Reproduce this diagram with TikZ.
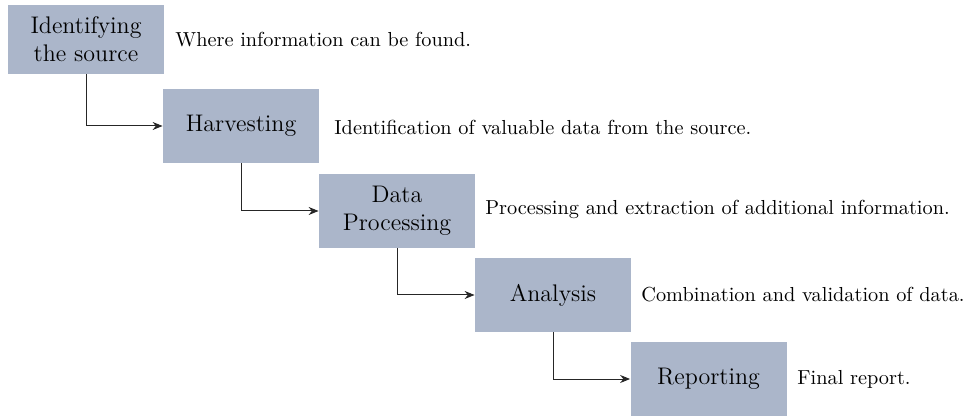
\documentclass[tikz,border=0pt]{standalone}
\usetikzlibrary{arrows.meta}
\definecolor{boxfill}{HTML}{ABB6CA}
\tikzset{
  stepbox/.style={rectangle, fill=boxfill, inner sep=0pt, minimum width=78pt, minimum height=37pt, align=center, font=\large},
  desc/.style={anchor=west, inner sep=0pt, font=\fontsize{10.15}{12}\selectfont},
  conn/.style={draw=black!85, line width=0.5pt, -{Stealth[length=5pt,width=4pt]}}
}
\begin{document}
\begin{tikzpicture}[x=0.5pt, y=-0.5pt]
\useasboundingbox (0,0) rectangle (968,416);
\node[stepbox, minimum height=34.5pt] (s1) at (86,39.5) {Identifying\\the source};
\node[stepbox] (s2) at (241,126) {Harvesting};
\node[stepbox] (s3) at (397,211) {Data\\Processing};
\node[stepbox] (s4) at (553,295) {Analysis};
\node[stepbox] (s5) at (708.5,379) {Reporting};
\node[desc] (d1) at (175,40) {Where information can be found.};
\node[desc] (d2) at (334,127) {Identification of valuable data from the source.};
\node[desc] (d3) at (485,209) {Processing and extraction of additional information.};
\node[desc] (d4) at (641,295) {Combination and validation of data.};
\node[desc] (d5) at (797,379) {Final report.};
\draw[conn] (s1.south) |- (s2.west);
\draw[conn] (s2.south) |- (s3.west);
\draw[conn] (s3.south) |- (s4.west);
\draw[conn] (s4.south) |- (s5.west);
\end{tikzpicture}
\end{document}
